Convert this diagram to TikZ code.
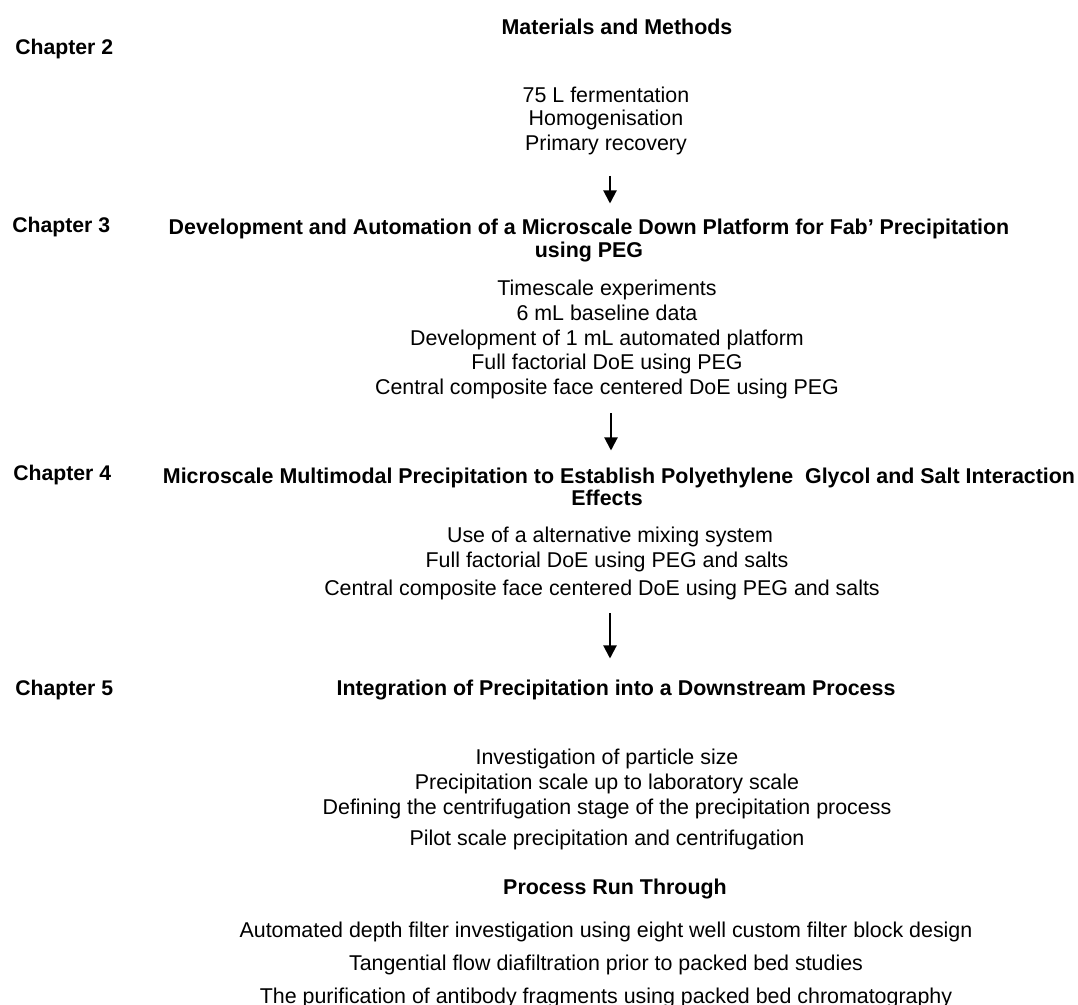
\documentclass[tikz,border=0pt]{standalone}
\usepackage{fontspec}
\setmainfont{Liberation Sans}
\usepackage{tikz}
\usetikzlibrary{arrows.meta}

\begin{document}
\begin{tikzpicture}[x=0.5pt, y=-0.5pt,
                    chap/.style={anchor=base west, inner sep=0pt, font=\fontsize{10.6}{12}\bfseries},
                    head/.style={anchor=base, inner sep=0pt, font=\fontsize{10.7}{12}\bfseries},
                    item/.style={anchor=base, inner sep=0pt, font=\fontsize{10.7}{12}\selectfont},
                    flow/.style={line width=1pt, -{Triangle[length=6.5pt,width=6.5pt]}}]
\useasboundingbox (0,0) rectangle (1078,1005);

% chapter 2
\node[chap] (ch2) at (15,55) {Chapter 2};
\node[head] (mm) at (617,35) {Materials and Methods};
\node[item] (ferm) at (606,103) {75 L fermentation};
\node[item] (homog) at (606,126) {Homogenisation};
\node[item] (recov) at (606,151) {Primary recovery};

% chapter 3
\node[chap] (ch3) at (12,233) {Chapter 3};
\node[head] (dev1) at (589,235) {Development and Automation of a Microscale Down Platform for Fab’ Precipitation};
\node[head] (dev2) at (589,258) {using PEG};
\node[item] (tscale) at (607,296) {Timescale experiments};
\node[item] (base) at (607,321) {6 mL baseline data};
\node[item] (auto) at (607,346) {Development of 1 mL automated platform};
\node[item] (ffp) at (607,370) {Full factorial DoE using PEG};
\node[item] (ccp) at (607,395) {Central composite face centered DoE using PEG};

% chapter 4
\node[chap] (ch4) at (13,481) {Chapter 4};
\node[head] (mmp1) at (619,484) {Microscale Multimodal Precipitation to Establish Polyethylene~ Glycol and Salt Interaction};
\node[head] (mmp2) at (607,506) {Effects};
\node[item] (mix) at (610,543) {Use of a alternative mixing system};
\node[item] (ffs) at (607,568) {Full factorial DoE using PEG and salts};
\node[item] (ccs) at (602,596) {Central composite face centered DoE using PEG and salts};

% chapter 5
\node[chap] (ch5) at (15,696) {Chapter 5};
\node[head] (intg) at (616,696) {Integration of Precipitation into a Downstream Process};
\node[item] (psize) at (607,765) {Investigation of particle size};
\node[item] (lab) at (607,790) {Precipitation scale up to laboratory scale};
\node[item] (cent) at (607,815) {Defining the centrifugation stage of the precipitation process};
\node[item] (pilot) at (607,846) {Pilot scale precipitation and centrifugation};
\node[head] (prt) at (615,895) {Process Run Through};
\node[item] (depth) at (606,938) {Automated depth filter investigation using eight well custom filter block design};
\node[item] (tff) at (606,971) {Tangential flow diafiltration prior to packed bed studies};
\node[item] (chrom) at (606,1003) {The purification of antibody fragments using packed bed chromatography};

% arrows
\draw[flow, shorten <=10pt, shorten >=7.8pt] ([xshift=2pt]recov.south) -- ([xshift=2pt]recov.south |- dev1.north);
\draw[flow, shorten <=6.7pt, shorten >=8.8pt] ([xshift=2pt]ccp.south) -- ([xshift=2pt]ccp.south |- mmp1.north);
\draw[flow, shorten <=6.2pt, shorten >=10.8pt] ([xshift=4pt]ccs.south) -- ([xshift=4pt]ccs.south |- intg.north);
\end{tikzpicture}
\end{document}
